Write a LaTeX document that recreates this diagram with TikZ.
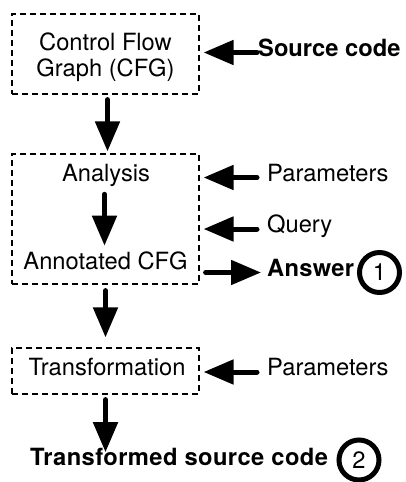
\documentclass[tikz,border=0pt]{standalone}
\usepackage{fontspec}
\setmainfont{TeX Gyre Heros}
\usetikzlibrary{arrows.meta}

\newcommand{\labelsize}{\fontsize{23.7}{25.5}\selectfont}

\tikzset{
  stagebox/.style={draw, dash pattern=on 6pt off 4pt, line width=1.2pt,
                   minimum width=187pt, inner sep=0pt},
  txt/.style={inner sep=0pt, text height=0.72em, text depth=0pt},
  bold txt/.style={txt, font=\labelsize\bfseries},
  bigarrow/.style={line width=5pt, line cap=round,
                   -{Triangle[length=30pt,width=24pt]}},
  numcircle/.style={circle, draw, line width=5pt, minimum size=40pt, inner sep=0pt},
}

\begin{document}
\begin{tikzpicture}[x=1pt, y=-1pt, font=\labelsize]
\useasboundingbox (0,0) rectangle (406,482);

% processing stages
\node[stagebox, minimum height=80pt]  (cfg)   at (105.5,54)  {};
\node[stagebox, minimum height=130pt] (anal)  at (105.5,219) {};
\node[stagebox, minimum height=46pt]  (trans) at (105.5,371) {};

% stage contents
\node[align=center, inner sep=0pt] (cfgtext) at (105.5,57) {Control Flow\\Graph (CFG)};
\node[txt] (analysis)  at (106,177.5)   {Analysis};
\node[txt] (annotated) at (105.5,265.5) {Annotated CFG};
\node[txt] (transtext) at (107,371.5)   {Transformation};

% inputs and outputs
\node[bold txt, anchor=west] (src)    at (258,52.5)  {Source code};
\node[txt, anchor=west]      (param1) at (267,177.5) {Parameters};
\node[txt, anchor=west]      (query)  at (267,228.5) {Query};
\node[bold txt, anchor=west] (answer) at (267,272.5) {\addfontfeature{LetterSpace=1.2}Answer};
\node[txt, anchor=west]      (param2) at (267,372)   {Parameters};
\node[bold txt, anchor=west] (result) at (30,462)    {\addfontfeature{LetterSpace=1.8}Transformed source code};

\node[numcircle] (m1) at (379.5,272.5) {1};
\node[numcircle] (m2) at (359,460)     {2};

% main flow
\draw[bigarrow, shorten <=5pt, shorten >=2pt]  ([xshift=2pt]cfg.south) -- ([xshift=2pt]anal.north);
\draw[bigarrow, shorten <=13pt, shorten >=16pt] ([xshift=-1.5pt]analysis.south) -- ([xshift=-1.5pt]analysis.south |- annotated.north);
\draw[bigarrow, shorten <=6pt, shorten >=10pt] (anal.south) -- (trans.north);
\draw[bigarrow, shorten <=5pt, shorten >=6pt]  (trans.south) -- (trans.south |- result.north);

% side inputs and outputs
\draw[bigarrow, shorten <=1pt, shorten >=4pt]  (src.west)    -- (src.west -| cfg.east);
\draw[bigarrow, shorten <=10pt, shorten >=4pt] (param1.west) -- (param1.west -| anal.east);
\draw[bigarrow, shorten <=10pt, shorten >=4pt] ([yshift=-0.5pt]query.west) -- ([yshift=-0.5pt]query.west -| anal.east);
\draw[bigarrow, shorten <=6pt, shorten >=6pt]  (answer.west -| anal.east) -- (answer.west);
\draw[bigarrow, shorten <=10pt, shorten >=4pt] (param2.west) -- (param2.west -| trans.east);
\end{tikzpicture}
\end{document}
